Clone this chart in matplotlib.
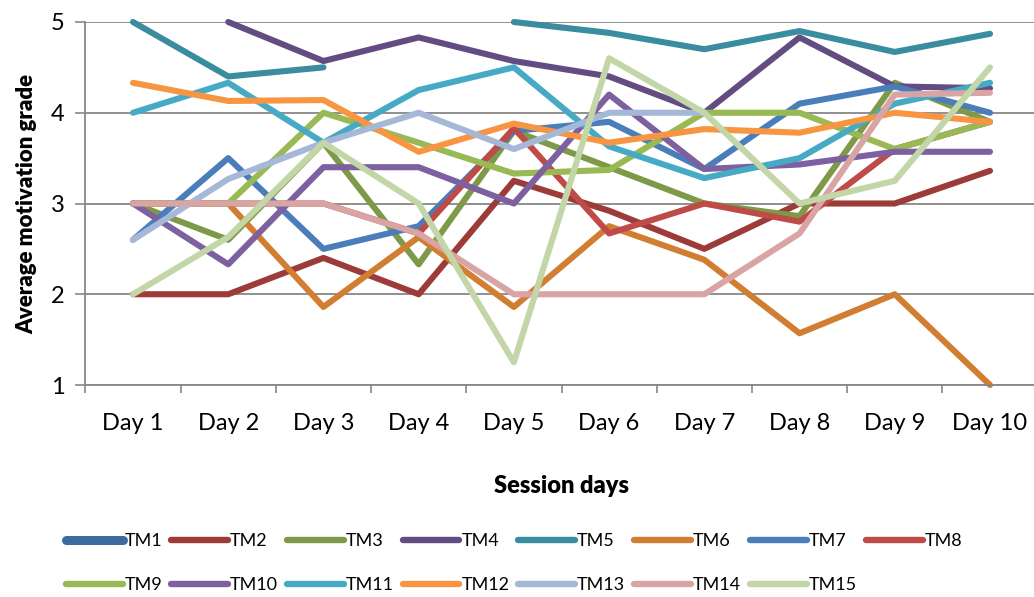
import numpy as np
import matplotlib.pyplot as plt
from matplotlib.ticker import FixedLocator

########## data (NaN = no value shown)
nan = np.nan
days = ['Day 1', 'Day 2', 'Day 3', 'Day 4', 'Day 5', 'Day 6', 'Day 7', 'Day 8', 'Day 9', 'Day 10']

TM1  = [nan, nan, nan, nan, nan, nan, nan, nan, nan, nan]
TM2  = [2.0, 2.0, 2.4, 2.0, 3.25, 2.92, 2.5, 3.0, 3.0, 3.36]
TM3  = [3.0, 2.6, 3.67, 2.33, 3.8, 3.4, 3.0, 2.86, 4.33, 3.9]
TM4  = [nan, 5.0, 4.57, 4.83, 4.57, 4.4, 4.0, 4.83, 4.29, 4.27]
TM5  = [5.0, 4.4, 4.5, nan, 5.0, 4.88, 4.7, 4.9, 4.67, 4.87]
TM6  = [3.0, 3.0, 1.86, 2.63, 1.86, 2.75, 2.38, 1.57, 2.0, 1.0]
TM7  = [2.6, 3.5, 2.5, 2.75, 3.8, 3.9, 3.38, 4.1, 4.29, 4.0]
TM8  = [3.0, 3.0, 3.0, 2.67, 3.83, 2.67, 3.0, 2.8, 3.6, 3.9]
TM9  = [3.0, 3.0, 4.0, 3.67, 3.33, 3.37, 4.0, 4.0, 3.6, 3.9]
TM10 = [3.0, 2.33, 3.4, 3.4, 3.0, 4.2, 3.38, 3.43, 3.57, 3.57]
TM11 = [4.0, 4.33, 3.67, 4.25, 4.5, 3.63, 3.28, 3.5, 4.1, 4.33]
TM12 = [4.33, 4.13, 4.14, 3.57, 3.88, 3.67, 3.82, 3.78, 4.0, 3.9]
TM13 = [2.6, 3.27, 3.67, 4.0, 3.6, 4.0, 4.0, nan, nan, nan]
TM14 = [3.0, 3.0, 3.0, 2.67, 2.0, 2.0, 2.0, 2.67, 4.2, 4.22]
TM15 = [2.0, 2.63, 3.67, 3.0, 1.25, 4.6, 4.0, 3.0, 3.25, 4.5]

series = [TM1, TM2, TM3, TM4, TM5, TM6, TM7, TM8, TM9, TM10, TM11, TM12, TM13, TM14, TM15]
names = ['TM%d' % (i + 1) for i in range(len(series))]
colors = ['#3D6A9E', '#9D3B38', '#7E9A48', '#634C82', '#3A8C9F', '#D17E33', '#4A7EBB', '#BE4B48',
          '#98B954', '#7D60A0', '#46AAC5', '#F79543', '#A6B8D8', '#D9A5A4', '#C3D6A8']

########## figure
plt.rcParams['font.family'] = ['Lato', 'DejaVu Sans']
grid_col = '#878787'

fig = plt.figure(figsize=(10.34, 5.97), dpi=100)
ax = fig.add_axes([85.4 / 1034, 1 - 385 / 597, 952.2 / 1034, 363 / 597])

x = np.arange(1, len(days) + 1)
for name, vals, col in zip(names, series, colors):
    ax.plot(x, vals, color=col, lw=4.4, label=name, clip_on=False,
            solid_capstyle='round', solid_joinstyle='round')

ax.set_xlim(0.5, 10.5)
ax.set_ylim(1, 5)
ax.set_yticks([1, 2, 3, 4, 5])
ax.set_xticks(x)
ax.set_xticklabels(days)
ax.xaxis.set_minor_locator(FixedLocator(np.arange(0.5, 11, 1)))
ax.tick_params(axis='x', which='major', length=0, pad=20, labelsize=17)
ax.tick_params(axis='x', which='minor', length=6, color=grid_col, width=1.2)
ax.tick_params(axis='y', length=7, color=grid_col, width=1.2, pad=8, labelsize=17)

ax.grid(axis='y', color=grid_col, lw=1.3)
ax.set_axisbelow(True)
for s in ['top', 'right']:
    ax.spines[s].set_visible(False)
for s in ['left', 'bottom']:
    ax.spines[s].set_color(grid_col)
    ax.spines[s].set_linewidth(1.3)

ax.set_xlabel('Session days', fontsize=17, fontweight='heavy', labelpad=30)
ax.set_ylabel('Average motivation grade', fontsize=16, fontweight='heavy', labelpad=10)

##### legend: two rows, row-wise order
order = []
for c in range(8):
    order.append(c)
    if c + 8 < len(series):
        order.append(c + 8)
leg_h = []
for i in order:
    h, = ax.plot([], [], color=colors[i], lw=6.5 if i == 0 else 4.6, solid_capstyle='round')
    leg_h.append(h)
fig.legend(leg_h, [names[i] for i in order], ncol=8, loc='center', bbox_to_anchor=(0.497, 1 - 563 / 597),
           frameon=False, fontsize=13, handlelength=3.15, handletextpad=0.1, columnspacing=0.5,
           labelspacing=1.55)

plt.savefig('out.png', dpi=100)
